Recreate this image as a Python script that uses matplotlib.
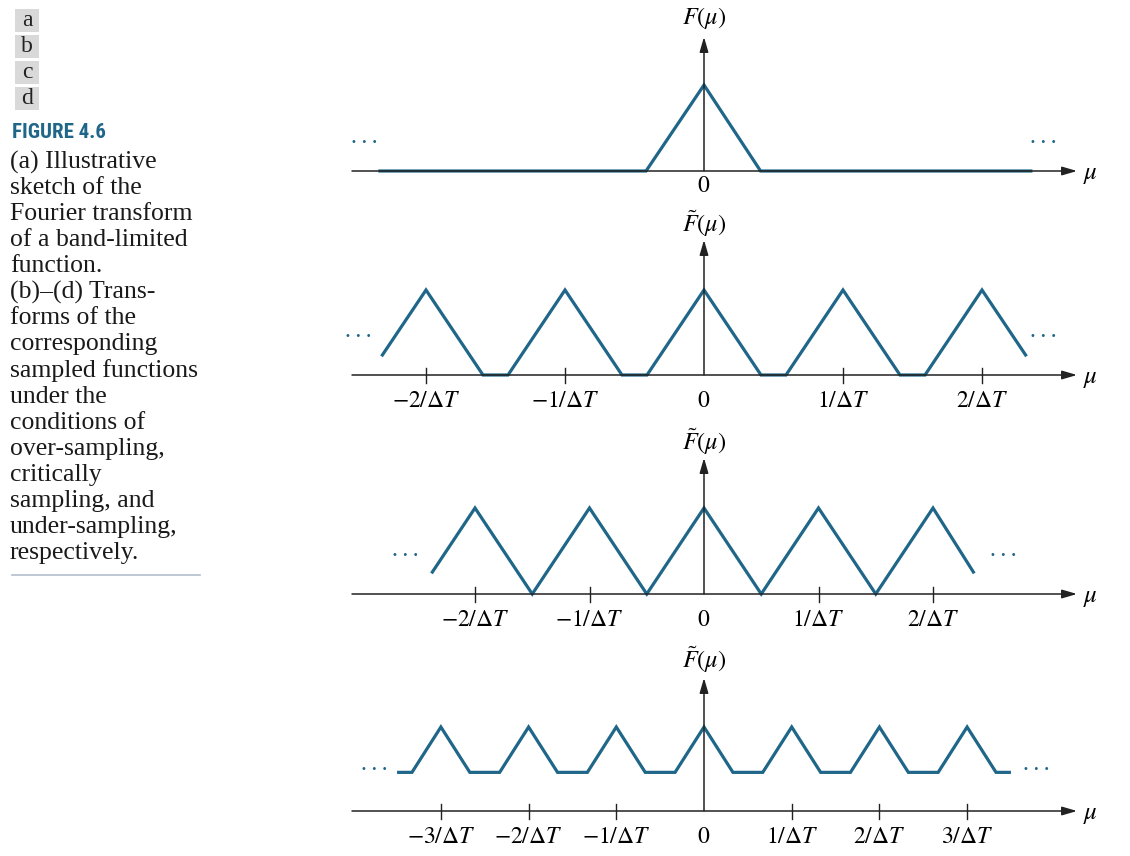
import matplotlib

matplotlib.use("Agg")
import matplotlib.pyplot as plt  # noqa: E402
import matplotlib.transforms as mtransforms  # noqa: E402
from matplotlib.patches import Rectangle  # noqa: E402

plt.rcParams["mathtext.fontset"] = "stix"
plt.rcParams["font.family"] = ["Liberation Serif", "DejaVu Serif"]

# --- data (positions in units of 1/dT, heights relative to peak) ---
a_x = [-2.36, -0.42, 0.0, 0.41, 2.38]
a_y = [0.0, 0.0, 1.0, 0.0, 0.0]

b_x = [-2.32, -2.0, -1.59, -1.41, -1.0, -0.59, -0.41, 0.0,
       0.41, 0.59, 1.0, 1.41, 1.59, 2.0, 2.32]
b_y = [0.22, 1.0, 0.0, 0.0, 1.0, 0.0, 0.0, 1.0,
       0.0, 0.0, 1.0, 0.0, 0.0, 1.0, 0.22]

c_x = [-2.38, -2.0, -1.5, -1.0, -0.5, 0.0, 0.5, 1.0, 1.5, 2.0, 2.36]
c_y = [0.24, 1.0, 0.0, 1.0, 0.0, 1.0, 0.0, 1.0, 0.0, 1.0, 0.24]

d_x = [-3.5, -3.33, -3.0, -2.67, -2.33, -2.0, -1.67, -1.33, -1.0, -0.67, -0.33, 0.0,
       0.33, 0.67, 1.0, 1.33, 1.67, 2.0, 2.33, 2.67, 3.0, 3.33, 3.5]
d_y = [0.46, 0.46, 1.0, 0.46, 0.46, 1.0, 0.46, 0.46, 1.0, 0.46, 0.46, 1.0,
       0.46, 0.46, 1.0, 0.46, 0.46, 1.0, 0.46, 0.46, 1.0, 0.46, 0.46]

a_ticks = []
b_ticks = [-2, -1, 1, 2]
c_ticks = [-2, -1, 1, 2]
d_ticks = [-3, -2, -1, 1, 2, 3]

b_labels = [r"$-2/\Delta T$", r"$-1/\Delta T$", r"$1/\Delta T$", r"$2/\Delta T$"]
c_labels = b_labels
d_labels = [r"$-3/\Delta T$", r"$-2/\Delta T$", r"$-1/\Delta T$",
            r"$1/\Delta T$", r"$2/\Delta T$", r"$3/\Delta T$"]

caption_lines = [
    "(a) Illustrative", "sketch of the", "Fourier transform", "of a band-limited",
    "function.", "(b)\u2013(d) Trans-", "forms of the", "corresponding",
    "sampled functions", "under the", "conditions of", "over-sampling,",
    "critically", "sampling, and", "under-sampling,", "respectively.",
]

BLUE = "#1f6689"
AXC = "#222222"
W, H = 1130, 856
CX = 704

fig = plt.figure(figsize=(W / 100, H / 100), dpi=100)
# pixel coordinates, y downwards
px = mtransforms.Affine2D().scale(1 / W, -1 / H).translate(0, 1) + fig.transFigure


def panel(xs, ys, ticks, labels, y0, top, bottom, s, h, tip, flab, dots,
          label_dy=27, zero_dy=27, tilde=True):
    ax = fig.add_axes([340 / W, 1 - bottom / H, 770 / W, (bottom - top) / H])
    ax.set_xlim((340 - CX) / s, (1110 - CX) / s)
    ax.set_ylim((y0 - bottom) / h, (y0 - top) / h)
    ax.axis("off")

    # axes with arrows
    arr = dict(arrowstyle="-|>,head_length=0.75,head_width=0.22", color=AXC,
               lw=1.1, shrinkA=0, shrinkB=0, mutation_scale=12)
    ax.annotate("", xy=(1077, y0), xytext=(352, y0), xycoords=px, textcoords=px,
                arrowprops=arr)
    ax.annotate("", xy=(CX, tip), xytext=(CX, y0), xycoords=px, textcoords=px,
                arrowprops=arr)
    ax.text(1083, y0 + 4, r"$\mu$", transform=px, fontsize=18, ha="left", va="center")
    name = r"$\tilde{F}(\mu)$" if tilde else r"$F(\mu)$"
    ax.text(CX, flab, name, transform=px, fontsize=17.5, ha="center", va="center")

    # ticks
    tk = mtransforms.blended_transform_factory(ax.transData, px)
    for t, lab in zip(ticks, labels):
        ax.plot([t, t], [y0 - 7, y0 + 8], color=AXC, lw=1.0, transform=tk)
        ax.text(t, y0 + label_dy, lab, transform=tk, fontsize=17,
                ha="center", va="center")
    ax.text(CX, y0 + zero_dy, r"$0$", transform=px, fontsize=17,
            ha="center", va="center")

    # signal
    ax.plot(xs, ys, color=BLUE, lw=2.3, solid_joinstyle="miter",
            solid_capstyle="butt", clip_on=False)

    for dx, dy in dots:
        ax.text(dx, dy, "\u00b7 \u00b7 \u00b7", transform=px, fontsize=13,
                color=BLUE, ha="center", va="center", fontweight="bold")
    return ax


panel(a_x, a_y, a_ticks, [], 171, 0, 200, 138, 86, 37, 18,
      [(364, 143), (1043, 143)], zero_dy=16, tilde=False)
panel(b_x, b_y, b_ticks, b_labels, 375, 200, 420, 139, 85, 240, 224,
      [(358, 338), (1043, 338)])
panel(c_x, c_y, c_ticks, c_labels, 594, 420, 640, 114.5, 86, 458, 442,
      [(405, 557), (1003, 557)])
panel(d_x, d_y, d_ticks, d_labels, 811, 640, 856, 87.7, 84, 678, 660,
      [(374, 771), (1036, 771)])

# left caption column
for i, letter in enumerate(["a", "b", "c", "d"]):
    ytop = 9 + i * 26
    fig.patches.append(Rectangle((15, ytop), 24, 23, transform=px,
                                 facecolor="#d9d9d9", edgecolor="none"))
    fig.text(27, ytop + 11, letter, transform=px, fontsize=17,
             ha="center", va="center", color="#222222")

fig.text(12, 132, "FIGURE 4.6", transform=px, fontsize=15, fontweight="bold",
         family=["Roboto Condensed", "Open Sans Condensed", "Roboto"],
         fontstretch="condensed", color=BLUE, ha="left", va="center")

for i, line in enumerate(caption_lines):
    fig.text(10, 162 + i * 26.07, line, transform=px, fontsize=18.5,
             ha="left", va="center", color="#1a1a1a")

fig.add_artist(plt.Line2D([12, 200], [575, 575], transform=px,
                          color="#b3bfcc", lw=1.2))

fig.savefig("out.png", dpi=100)
